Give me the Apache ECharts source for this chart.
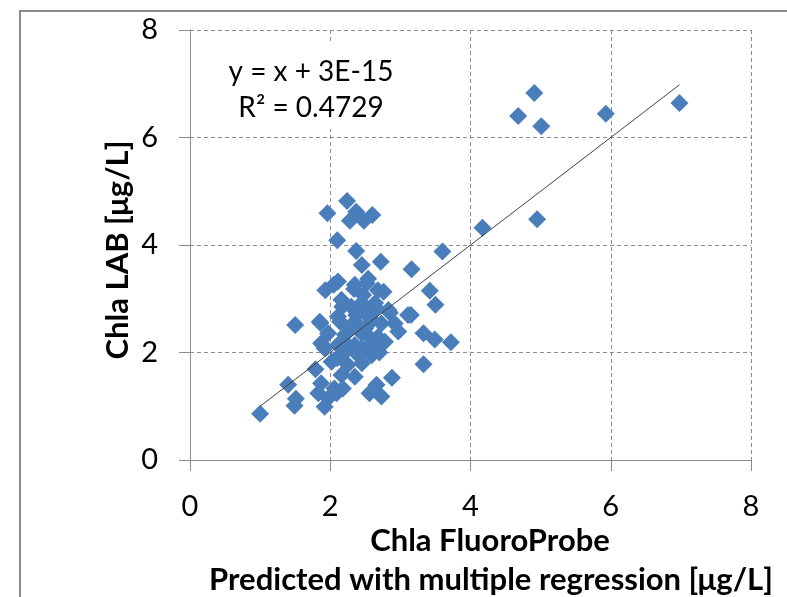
<!DOCTYPE html>
<html><head><meta charset="utf-8">
<script src="https://cdn.jsdelivr.net/npm/echarts@6/dist/echarts.min.js"></script>
<style>html,body{margin:0;padding:0;background:#fff}#c{width:787px;height:597px}</style>
</head><body><div id="c"></div>
<script>
// Chla FluoroProbe (predicted) values
const fluoroProbe = [
  1.00, 6.98, 5.93, 4.91, 4.68, 5.01, 4.95, 4.17, 3.60, 3.16,
  3.42, 3.50, 3.15, 3.33, 3.49, 3.72, 3.33, 2.88, 1.50, 1.40,
  1.51, 1.49, 2.24, 1.96, 2.37, 2.28, 2.48, 2.60, 2.10, 2.37,
  2.45, 2.72, 2.54, 1.93, 2.05, 2.34, 2.76, 2.47, 2.17, 2.66,
  2.85, 1.86, 2.37, 2.14, 1.79, 1.87, 1.83, 1.92, 1.97, 2.09,
  2.18, 2.66, 2.56, 2.73, 2.11, 2.35, 2.52, 2.68, 2.16, 2.45,
  2.64, 2.83, 3.11, 1.85, 2.11, 2.35, 2.54, 2.73, 2.92, 1.97,
  2.21, 2.45, 2.68, 2.97, 1.87, 2.11, 2.35, 2.59, 2.78, 1.92,
  2.21, 2.45, 2.68, 2.02, 2.25, 2.45, 2.59, 2.16, 2.35, 2.06,
  2.30, 2.50, 2.20, 2.55, 2.40, 2.60, 2.30, 2.10, 2.70, 2.50
];
// Chla LAB values
const chlaLab = [
  0.86, 6.64, 6.44, 6.83, 6.40, 6.21, 4.48, 4.32, 3.88, 3.55,
  3.15, 2.89, 2.70, 2.36, 2.24, 2.19, 1.78, 1.53, 2.51, 1.40,
  1.14, 1.01, 4.82, 4.59, 4.62, 4.45, 4.45, 4.56, 4.09, 3.89,
  3.63, 3.69, 3.37, 3.16, 3.26, 3.18, 3.13, 3.07, 2.85, 2.82,
  2.74, 2.55, 2.70, 2.57, 1.69, 1.43, 1.24, 0.99, 1.15, 1.24,
  1.33, 1.40, 1.24, 1.18, 3.32, 3.26, 3.29, 3.16, 2.98, 2.92,
  2.92, 2.79, 2.70, 2.57, 2.67, 2.57, 2.67, 2.54, 2.54, 2.36,
  2.33, 2.36, 2.29, 2.39, 2.17, 2.14, 2.14, 2.17, 2.20, 2.08,
  2.01, 2.08, 2.08, 1.83, 1.77, 1.80, 1.95, 1.58, 1.55, 1.33,
  2.45, 2.45, 2.20, 2.30, 1.95, 2.60, 2.85, 1.90, 2.00, 2.80
];
const trendSlope = 1;
const trendIntercept = 3e-15;
const equationLines = ['y = x + 3E-15', 'R\u00B2 = 0.4729'];
const xAxisTitleLines = ['Chla FluoroProbe', 'Predicted with multiple regression [\u03BCg/L]'];
const yAxisTitle = 'Chla LAB [\u03BCg/L]';
const axisMin = 0, axisMax = 8, axisStep = 2;

const points = fluoroProbe.map((x, i) => [x, chlaLab[i]]);
const xMin = Math.min(...fluoroProbe), xMax = Math.max(...fluoroProbe);
const trend = [[xMin, trendSlope * xMin + trendIntercept], [xMax, trendSlope * xMax + trendIntercept]];

const FONT = 'Lato';
const chart = echarts.init(document.getElementById('c'), null, {renderer: 'canvas'});
const axisCommon = {
  type: 'value', min: axisMin, max: axisMax, interval: axisStep,
  axisLine: {show: true, onZero: false, lineStyle: {color: '#8c8c8c', width: 1}},
  axisTick: {show: true, length: 11, inside: false, lineStyle: {color: '#8c8c8c'}},
  splitLine: {show: true, lineStyle: {color: '#8c8c8c', type: [4, 3], width: 1}},
  axisLabel: {color: '#000', fontFamily: FONT, fontSize: 29}
};
chart.setOption({
  animation: false,
  backgroundColor: '#fff',
  grid: {left: 190, right: 36, top: 30, bottom: 137, containLabel: false},
  xAxis: Object.assign({}, axisCommon, {axisLabel: Object.assign({}, axisCommon.axisLabel, {margin: 32})}),
  yAxis: Object.assign({}, axisCommon, {axisLabel: Object.assign({}, axisCommon.axisLabel, {margin: 32})}),
  series: [
    {type: 'scatter', data: points, symbol: 'diamond', symbolSize: 18,
     itemStyle: {color: '#4a7ebb', opacity: 1}, z: 3},
    {type: 'line', data: trend, symbol: 'none', lineStyle: {color: '#404040', width: 1}, z: 4}
  ],
  graphic: [
    {type: 'rect', shape: {x: 20, y: 11, width: 800, height: 620}, style: {fill: 'none', stroke: '#8c8c8c', lineWidth: 2}, z: 0, silent: true},
    {type: 'rect', shape: {x: 215, y: 44, width: 190, height: 85}, style: {fill: '#fff'}, z: 50},
    {type: 'text', x: 311, y: 72, z: 51, style: {text: equationLines[0], font: '28px ' + FONT, fill: '#000', textAlign: 'center', textVerticalAlign: 'middle'}},
    {type: 'text', x: 311, y: 108, z: 51, style: {text: equationLines[1], font: '28px ' + FONT, fill: '#000', textAlign: 'center', textVerticalAlign: 'middle'}},
    {type: 'text', x: 490, y: 541, style: {text: xAxisTitleLines[0], font: 'bold 31px ' + FONT, fill: '#000', textAlign: 'center', textVerticalAlign: 'middle'}},
    {type: 'text', x: 491, y: 580, style: {text: xAxisTitleLines[1], font: 'bold 31px ' + FONT, fill: '#000', textAlign: 'center', textVerticalAlign: 'middle'}},
    {type: 'text', x: 118, y: 250, rotation: Math.PI / 2, style: {text: yAxisTitle, font: 'bold 31px ' + FONT, fill: '#000', textAlign: 'center', textVerticalAlign: 'middle'}}
  ]
});
</script></body></html>
